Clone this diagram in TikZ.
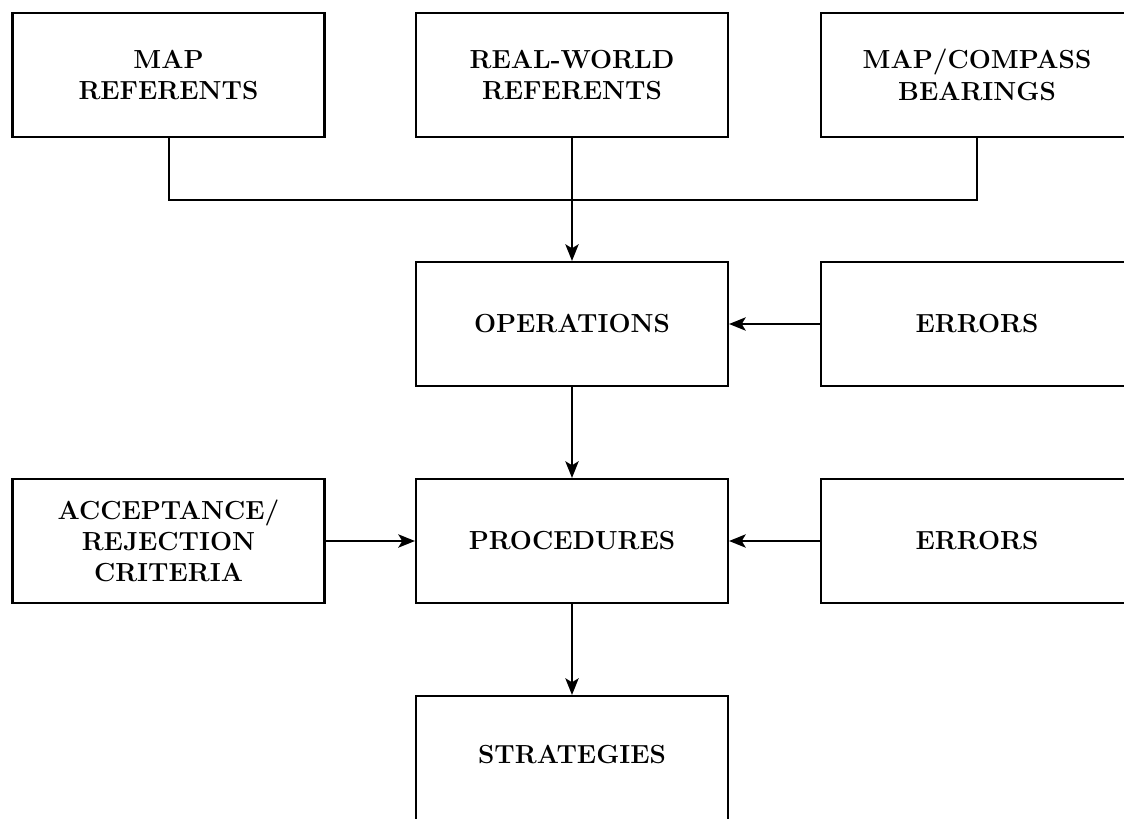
\documentclass[tikz,border=0pt]{standalone}
\usetikzlibrary{arrows.meta}
\begin{document}
\begin{tikzpicture}[x=0.75pt,y=-0.75pt,
  box/.style={draw,line width=1.6pt,minimum width=234pt,minimum height=93pt,
    align=center,inner sep=0pt,font=\bfseries\fontsize{19.6}{23.5}\selectfont},
  link/.style={line width=1.5pt},
  flow/.style={link,-{Stealth[length=12.5pt,width=10pt,inset=3pt]}}]
\clip (0,0) rectangle (1124,818);
\fill[white] (0,0) rectangle (1124,818);
% top row
\node[box] (mapref)  at (168.5,75) {MAP\\REFERENTS};
\node[box] (realw)   at (572,75)   {REAL-WORLD\\REFERENTS};
\node[box] (mapcomp) at (977,75)   {MAP/COMPASS\\BEARINGS};
% middle rows
\node[box] (ops)    at (572,324)   {OPERATIONS};
\node[box] (err1)   at (977,324)   {ERRORS};
\node[box] (accept) at (168.5,541) {ACCEPTANCE/\\REJECTION\\CRITERIA};
\node[box] (proc)   at (572,541)   {PROCEDURES};
\node[box] (err2)   at (977,541)   {ERRORS};
% bottom
\node[box, minimum height=96pt] (strat) at (572,760) {};
\node[font=\bfseries\fontsize{19.6}{23.5}\selectfont] (strattext) at (572,754) {STRATEGIES};
% collecting line under the top row
\coordinate (bus) at (572,200);
\draw[link] (mapref.south) |- (bus) -| (mapcomp.south);
\draw[flow] (realw.south) -- (ops.north);
\draw[flow] (err1.west) -- (ops.east);
\draw[flow] (ops.south) -- (proc.north);
\draw[flow] (accept.east) -- (proc.west);
\draw[flow] (err2.west) -- (proc.east);
\draw[flow] (proc.south) -- (strat.north);
\end{tikzpicture}
\end{document}
